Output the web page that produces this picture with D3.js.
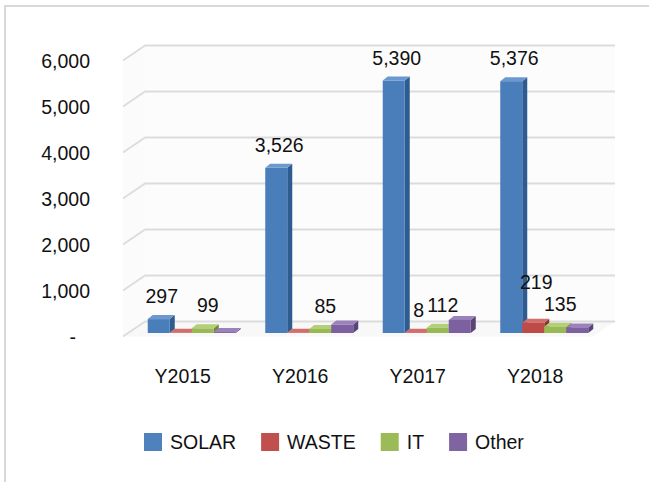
<!DOCTYPE html>
<html>
<head>
<meta charset="utf-8">
<script src="https://cdn.jsdelivr.net/npm/d3@7"></script>
<style>
body{margin:0;background:#fff;}
svg{display:block;font-family:Arial,"Liberation Sans",sans-serif;}
</style>
</head>
<body>
<svg id="chart" width="649" height="482"></svg>
<script>
// values
var years = ["Y2015", "Y2016", "Y2017", "Y2018"];
var seriesNames = ["SOLAR", "WASTE", "IT", "Other"];
var solar = [297, 3526, 5390, 5376];
var waste = [5, 5, 8, 219];
var it = [99, 85, 112, 135];
var other = [20, 180, 280, 120];
var yTicks = [0, 1000, 2000, 3000, 4000, 5000, 6000];
// only these series carry data labels in the original
var labelledSeries = ["SOLAR", "WASTE", "IT"];
var hiddenLabels = ["Y2015 WASTE", "Y2016 WASTE"];

var seriesValues = [solar, waste, it, other];

//front, side, top colours per series
var colors = {
	SOLAR: ["#4a7ebb", "#2e5c91", "#6b98cf"],
	WASTE: ["#be4b48", "#8c3230", "#d26e6b"],
	IT: ["#98b954", "#6e8a38", "#b3cf78"],
	Other: ["#7d60a0", "#584476", "#9a82bb"]
};
var legendColors = ["#4f81bd", "#c0504d", "#9bbb59", "#8064a2"];

var svg = d3.select("#chart");

//chart area border, only top and left show in the picture
svg.append("rect")
.attr("x", 5).attr("y", 6)
.attr("width", 800).attr("height", 600)
.attr("fill", "none")
.attr("stroke", "#d9d9d9")
.attr("stroke-width", 2);

//depth of the side wall
var depthX = 22, depthY = -15;

var x0 = d3.scaleBand().domain(years).range([123, 593]);
var x1 = d3.scaleBand().domain(seriesNames).range([0, x0.bandwidth()]).paddingOuter(0.67);
var yFront = d3.scaleLinear().domain([0, 6000]).range([336.5, 60.5]);
var yBar = d3.scaleLinear().domain([0, 6000]).range([333, 52]);

var left = x0.range()[0], right = x0.range()[1];

//walls and floor, barely off-white
var walls = svg.append("g");
walls.append("polygon")
.attr("points", [
	[left + depthX, yFront(6000) + depthY], [right + depthX, yFront(6000) + depthY],
	[right + depthX, yFront(0) + depthY], [left + depthX, yFront(0) + depthY]
].join(" "))
.attr("fill", "#fcfcfc");
walls.append("polygon")
.attr("points", [
	[left, yFront(6000)], [left + depthX, yFront(6000) + depthY],
	[left + depthX, yFront(0) + depthY], [left, yFront(0)]
].join(" "))
.attr("fill", "#fbfbfb");
walls.append("polygon")
.attr("points", [
	[left, yFront(0)], [right, yFront(0)],
	[right + depthX, yFront(0) + depthY], [left + depthX, yFront(0) + depthY]
].join(" "))
.attr("fill", "#f8f8f8");

//gridlines: diagonal on side wall, flat on back wall
walls.selectAll("polyline.grid")
.data(yTicks)
.enter()
.append("polyline")
.attr("class", "grid")
.attr("points", function(d){
	return [
		[left, yFront(d)],
		[left + depthX, yFront(d) + depthY],
		[right + depthX, yFront(d) + depthY]
	].join(" ");
})
.attr("fill", "none")
.attr("stroke", "#dcdcdc")
.attr("stroke-width", 1.8)
.attr("stroke-linejoin", "round");

//value axis, accounting format so zero shows as "-"
var yAxis = d3.axisLeft(yFront)
.tickValues(yTicks)
.tickFormat(function(d){ return d === 0 ? "-" : d3.format(",")(d); })
.tickSize(0);

var yAxisG = svg.append("g")
.attr("transform", "translate(90,0)")
.call(yAxis);
yAxisG.select(".domain").remove();
yAxisG.selectAll("text")
.attr("x", function(d){ return d === 0 ? -14 : 0; })
.attr("dy", "0.36em")
.style("font-family", "Arial, 'Liberation Sans', sans-serif")
.style("font-size", "19.5px")
.attr("fill", "#111");

//category axis
var xAxisG = svg.append("g")
.attr("transform", "translate(1,383)")
.call(d3.axisBottom(x0).tickSize(0));
xAxisG.select(".domain").remove();
xAxisG.selectAll("text")
.attr("y", 0)
.attr("dy", 0)
.style("font-family", "Arial, 'Liberation Sans', sans-serif")
.style("font-size", "19.5px")
.attr("fill", "#111");

//bars sit a little behind the front plane
var barOffsetX = 10;
var barDx = 5, barDy = -4;
var barBase = yBar(0);

var rows = years.map(function(yr, i){
	return {
		year: yr,
		values: seriesNames.map(function(s, j){
			return {year: yr, series: s, value: seriesValues[j][i]};
		})
	};
});

var groups = svg.selectAll("g.year")
.data(rows)
.enter()
.append("g")
.attr("class", "year")
.attr("transform", function(d){ return "translate(" + (x0(d.year) + barOffsetX) + ",0)"; });

var w = x1.bandwidth();

var bars = groups.selectAll("g.bar")
.data(function(d){ return d.values; })
.enter()
.append("g")
.attr("class", "bar");

//side face
bars.append("polygon")
.attr("points", function(d){
	var x = x1(d.series), t = yBar(d.value);
	return [[x + w, t], [x + w + barDx, t + barDy], [x + w + barDx, barBase + barDy], [x + w, barBase]].join(" ");
})
.attr("fill", function(d){ return colors[d.series][1]; });

//top face
bars.append("polygon")
.attr("points", function(d){
	var x = x1(d.series), t = yBar(d.value);
	return [[x, t], [x + barDx, t + barDy], [x + w + barDx, t + barDy], [x + w, t]].join(" ");
})
.attr("fill", function(d){ return colors[d.series][2]; });

//front face
bars.append("rect")
.attr("x", function(d){ return x1(d.series); })
.attr("y", function(d){ return yBar(d.value); })
.attr("width", w)
.attr("height", function(d){ return barBase - yBar(d.value); })
.attr("fill", function(d){ return colors[d.series][0]; });

//data labels
var labelData = [];
rows.forEach(function(r){
	r.values.forEach(function(v){
		if (labelledSeries.indexOf(v.series) < 0) return;
		if (hiddenLabels.indexOf(v.year + " " + v.series) >= 0) return;
		labelData.push(v);
	});
});

var labels = svg.append("g")
.selectAll("text")
.data(labelData)
.enter()
.append("text")
.attr("x", function(d){ return x0(d.year) + barOffsetX + x1(d.series) + w / 2 + (d.series === "IT" ? 5 : 3); })
.attr("y", function(d){ return yBar(d.value) - 23; })
.attr("dy", "0.36em")
.attr("text-anchor", "middle")
.attr("font-size", "19.5px")
.attr("fill", "#111")
.text(function(d){ return d3.format(",")(d.value); });

//push a label up when it runs into the next one in its group
var nodes = labels.nodes();
for (var i = nodes.length - 1; i >= 0; i--) {
	for (var j = i + 1; j < nodes.length; j++) {
		var a = d3.select(nodes[i]), b = d3.select(nodes[j]);
		if (a.datum().year !== b.datum().year) continue;
		var halfW = (nodes[i].getComputedTextLength() + nodes[j].getComputedTextLength()) / 2 - 2;
		var dx = Math.abs(+a.attr("x") - +b.attr("x"));
		var dy = Math.abs(+a.attr("y") - +b.attr("y"));
		if (dx < halfW && dy < 20) {
			a.attr("y", +b.attr("y") - 22);
		}
	}
}

//legend
var legend = svg.append("g")
.attr("transform", "translate(144,433)");
var lx = 0;
seriesNames.forEach(function(s, i){
	var item = legend.append("g").attr("transform", "translate(" + lx + ",0)");
	item.append("rect")
	.attr("width", 18)
	.attr("height", 18)
	.attr("fill", legendColors[i]);
	var t = item.append("text")
	.attr("x", 26)
	.attr("y", 16)
	.attr("font-size", "19.5px")
	.attr("fill", "#111")
	.text(s);
	lx += 26 + t.node().getComputedTextLength() + 25;
});
</script>
</body>
</html>
